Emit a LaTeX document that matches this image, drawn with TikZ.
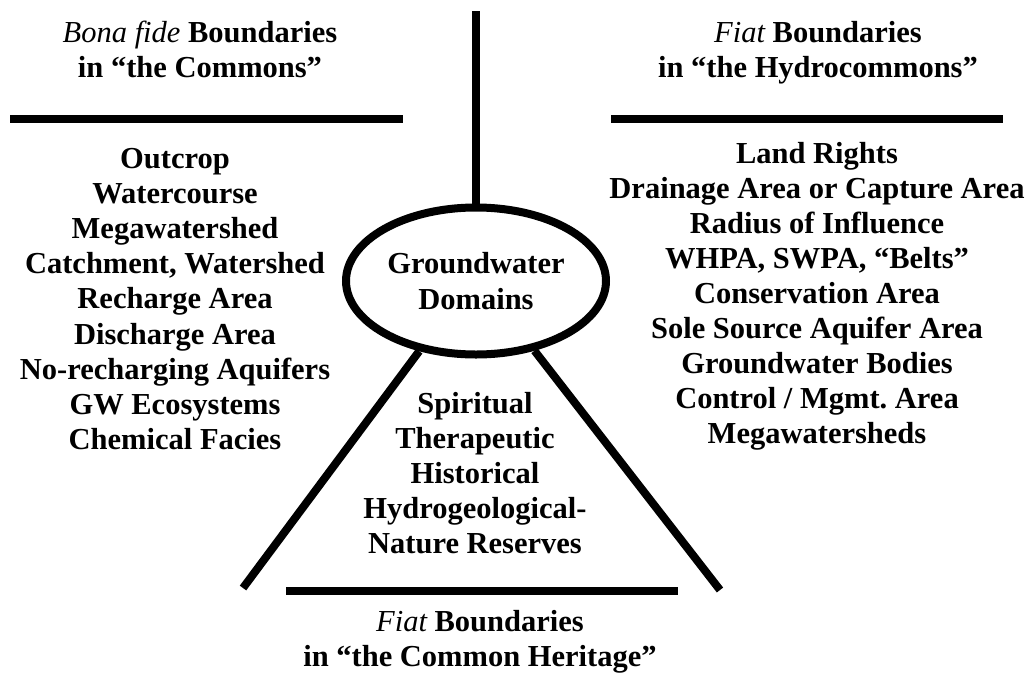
\documentclass[tikz,border=0pt]{standalone}
\usepackage{fontspec}
\setmainfont{Liberation Serif}
\usetikzlibrary{calc,shapes.geometric}
\frenchspacing

\begin{document}
\begin{tikzpicture}[x=1pt,y=-1pt]


\def\lineWidth{8pt}
\def\textsize{30.5}
\def\rowdist{35.2}
\tikzset{
  entry/.style={anchor=base, inner sep=0pt, font=\fontsize{\textsize}{\rowdist}\selectfont\bfseries},
  bar/.style={line width=\lineWidth}
}
\useasboundingbox (0,0) rectangle (1031,675);

\coordinate (stem-top) at (476, 11);
\coordinate (commons-bar-start) at (10, 119);
\coordinate (commons-bar-end) at (403, 119);
\coordinate (hydro-bar-start) at (611, 119);
\coordinate (hydro-bar-end) at (1003, 119);
\coordinate (heritage-bar-start) at (286, 591);
\coordinate (heritage-bar-end) at (678, 591);
\coordinate (left-leg-foot) at (243, 588);
\coordinate (right-leg-foot) at (720, 590);


%DRAW

\node[draw, ellipse, line width=\lineWidth, minimum width=260pt, minimum height=147pt, inner sep=0pt, align=center, font=\fontsize{\textsize}{\rowdist}\selectfont\bfseries] (domains) at (476, 281) {Groundwater\\Domains};

\draw[bar] (stem-top) -- (domains.north);
\draw[bar] (left-leg-foot) -- (domains.231);
\draw[bar] (right-leg-foot) -- (domains.310);

\draw[bar] (commons-bar-start) -- (commons-bar-end);
\draw[bar] (hydro-bar-start) -- (hydro-bar-end);
\draw[bar] (heritage-bar-start) -- (heritage-bar-end);

% headings
\node[entry] (commons-head) at (200, 42) {{\mdseries\itshape Bona fide} Boundaries};
\node[entry] (commons-head-2) at (200, 77) {in ``the Commons''};
\node[entry] (hydro-head) at (818, 42) {{\mdseries\itshape Fiat} Boundaries};
\node[entry] (hydro-head-2) at (818, 77) {in ``the Hydrocommons''};
\node[entry] (heritage-head) at (480, 631) {{\mdseries\itshape Fiat} Boundaries};
\node[entry] (heritage-head-2) at (480, 666) {in ``the Common Heritage''};

% lists
\foreach \txt [count=\i] in {Outcrop, Watercourse, Megawatershed, {Catchment, Watershed}, Recharge Area, Discharge Area, No-recharging Aquifers, GW Ecosystems, Chemical Facies}
  \node[entry] (commons-\i) at (175, 168+35.2*\i-35.2) {\txt};

\foreach \txt [count=\i] in {Land Rights, Drainage Area or Capture Area, Radius of Influence, {WHPA, SWPA, ``Belts''}, Conservation Area, Sole Source Aquifer Area, Groundwater Bodies, Control / Mgmt. Area, Megawatersheds}
  \node[entry] (hydro-\i) at (817, 163+35*\i-35) {\txt};

\foreach \txt [count=\i] in {Spiritual, Therapeutic, Historical, Hydrogeological-, Nature Reserves}
  \node[entry] (heritage-\i) at (475, 413+35*\i-35) {\txt};


\end{tikzpicture}
\end{document}
